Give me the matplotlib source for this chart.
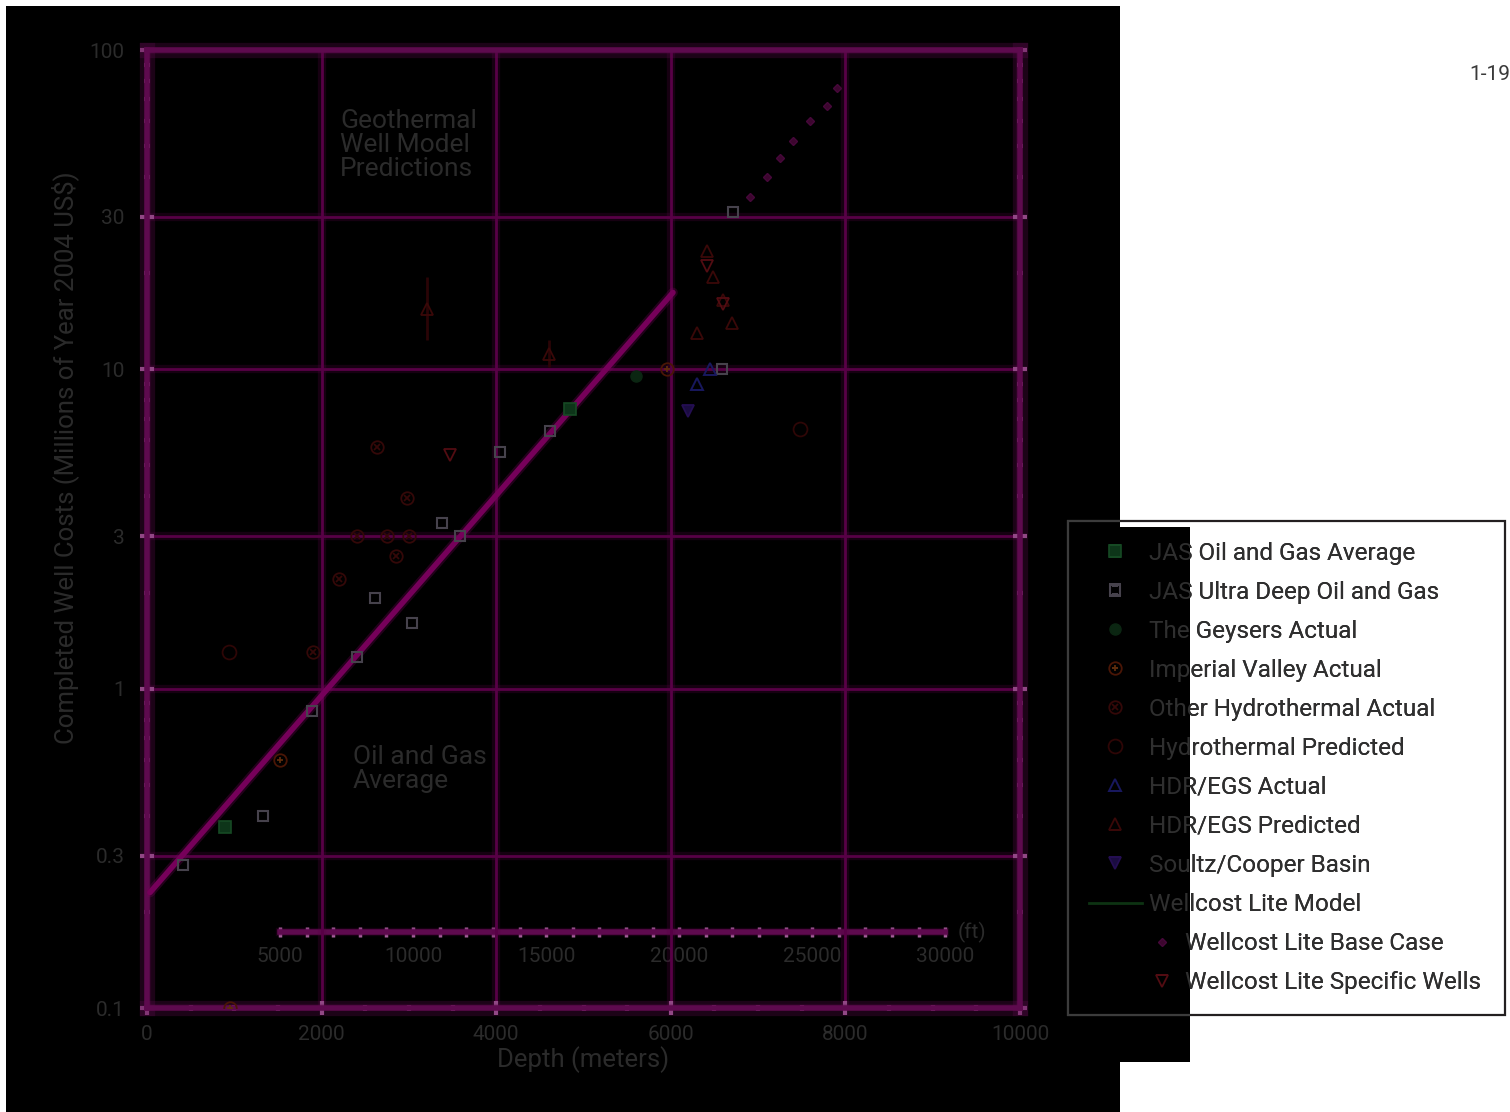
import numpy as np
import matplotlib.pyplot as plt
import matplotlib.patheffects as pe
from matplotlib.patches import Polygon
from matplotlib.ticker import FixedLocator
from matplotlib.legend_handler import HandlerLine2D

plt.rcParams['font.family'] = ['Roboto', 'DejaVu Sans']

W, H = 1510, 1112

# JAS oil and gas average fit (solid trend)
trend_depth = [34, 6025]
trend_cost = [0.23, 17.4]

# series: depth (m), completed well cost (M$ 2004)
jas_avg_depth = [893, 4845]
jas_avg_cost = [0.37, 7.5]

ultra_depth = [412, 1330, 1890, 2405, 2610, 3035, 3380, 3585, 4040, 4616, 6590, 6710]
ultra_cost = [0.28, 0.40, 0.85, 1.26, 1.92, 1.6, 3.3, 3.0, 5.5, 6.4, 10.0, 31.0]

geysers_depth = [5600]
geysers_cost = [9.5]

imperial_depth = [950, 1523, 5960]
imperial_cost = [0.1, 0.6, 10.0]

other_hydro_depth = [1900, 2200, 2400, 2630, 2750, 2850, 2980, 3000]
other_hydro_cost = [1.3, 2.2, 3.0, 5.7, 3.0, 2.6, 3.95, 3.0]

hydro_pred_depth = [940, 7480]
hydro_pred_cost = [1.3, 6.5]

hdr_act_depth = [6300, 6450]
hdr_act_cost = [9.0, 10.0]

hdr_pred_depth = [3210, 4600, 6300, 6410, 6480, 6600, 6700]
hdr_pred_cost = [15.5, 11.2, 13.0, 23.5, 19.5, 16.5, 14.0]
hdr_pred_lo = [12.4, 10.2, 13.0, 23.5, 19.5, 16.5, 14.0]
hdr_pred_hi = [19.5, 12.4, 13.0, 23.5, 19.5, 16.5, 14.0]

soultz_depth = [6200]
soultz_cost = [7.4]

base_case_depth = [6907, 7100, 7250, 7400, 7595, 7790, 7900]
base_case_cost = [34.6, 40.0, 46.0, 52.0, 60.0, 67.0, 76.0]

specific_depth = [3470, 6410, 6600]
specific_cost = [5.4, 21.0, 16.0]

x_ticks = [0, 2000, 4000, 6000, 8000, 10000]
y_ticks = [0.1, 0.3, 1, 3, 10, 30, 100]
y_tick_labels = ['0.1', '0.3', '1', '3', '10', '30', '100']
ft_ticks = [5000, 10000, 15000, 20000, 25000, 30000]

legend_labels = [
    'JAS Oil and Gas Average', 'JAS Ultra Deep Oil and Gas', 'The Geysers Actual',
    'Imperial Valley Actual', 'Other Hydrothermal Actual', 'Hydrothermal Predicted',
    'HDR/EGS Actual', 'HDR/EGS Predicted', 'Soultz/Cooper Basin', 'Wellcost Lite Model',
    '      Wellcost Lite Base Case', '      Wellcost Lite Specific Wells',
]

TXT = '#2b2b2b'
GRID = '#580046'
SPINE = '#5e0a4e'
TICK = '#a8649e'


def fpx(x, y):
    return (x / W, 1 - y / H)


fig = plt.figure(figsize=(W / 100, H / 100), dpi=100, facecolor='white')

# dark backdrop behind the plot and the left part of the legend
dark_poly = Polygon([fpx(6, 6), fpx(1120, 6), fpx(1120, 527), fpx(1190, 527),
                     fpx(1190, 1062), fpx(1120, 1062), fpx(1120, 1112), fpx(6, 1112)],
                    closed=True, transform=fig.transFigure, facecolor='black',
                    edgecolor='none', zorder=-1)
fig.patches.append(dark_poly)

ax = fig.add_axes([147 / W, 1 - 1008 / H, (1020 - 147) / W, (1008 - 50) / H])
ax.set_facecolor('none')
ax.set_yscale('log')
ax.set_xlim(0, 10000)
ax.set_ylim(0.1, 100)

glow = [pe.Stroke(linewidth=6, foreground=GRID, alpha=0.25), pe.Normal()]
glow_wide = [pe.Stroke(linewidth=11, foreground=SPINE, alpha=0.3), pe.Normal()]

ax.set_xticks(x_ticks)
ax.set_xticklabels([str(v) for v in x_ticks])
ax.set_yticks(y_ticks)
ax.set_yticklabels(y_tick_labels)
ax.xaxis.set_minor_locator(FixedLocator(np.arange(0, 10001, 500)))
minor_y = [m * 10.0 ** e for e in (-1, 0, 1) for m in (2, 4, 5, 6, 7, 8, 9)]
ax.yaxis.set_minor_locator(FixedLocator(minor_y))
ax.yaxis.set_minor_formatter(plt.NullFormatter())
ax.xaxis.set_minor_formatter(plt.NullFormatter())

ax.grid(True, which='major', color=GRID, linewidth=2, path_effects=glow)
ax.set_axisbelow(True)

for s in ax.spines.values():
    s.set_color(SPINE)
    s.set_linewidth(4)
    s.set_path_effects(glow_wide)

ax.tick_params(which='both', direction='inout', color=TICK, width=3,
               left=True, right=True, top=False, bottom=True,
               labelsize=15, labelcolor=TXT)
ax.tick_params(which='major', length=10)
ax.tick_params(which='minor', length=5)
ax.tick_params(axis='y', pad=11)
ax.tick_params(axis='x', pad=7)

# trend line
ax.plot(trend_depth, trend_cost, color='#76005a', lw=4, solid_capstyle='round',
        path_effects=[pe.Stroke(linewidth=7, foreground='#76005a', alpha=0.3), pe.Normal()],
        zorder=3)

ax.vlines(hdr_pred_depth, hdr_pred_lo, hdr_pred_hi, color='#2a0406', lw=2, zorder=2)

mk = dict(ls='none', zorder=4)
h_jas, = ax.plot(jas_avg_depth, jas_avg_cost, marker='s', ms=8, mfc='#0d3519', mec='#164a24', mew=1.2, **mk)
h_ultra, = ax.plot(ultra_depth, ultra_cost, marker='s', ms=7, mfc='none', mec='#46424c', mew=1.5, **mk)
h_geys, = ax.plot(geysers_depth, geysers_cost, marker='o', ms=8, mfc='#0b2612', mec='#0b2612', **mk)
h_imp_c, = ax.plot(imperial_depth, imperial_cost, marker='o', ms=9, mfc='none', mec='#4a1606', mew=1.3, **mk)
h_imp_p, = ax.plot(imperial_depth, imperial_cost, marker='+', ms=5, mec='#5e2c0c', mew=1.3, **mk)
h_oth_c, = ax.plot(other_hydro_depth, other_hydro_cost, marker='o', ms=9, mfc='none', mec='#340808', mew=1.3, **mk)
h_oth_x, = ax.plot(other_hydro_depth, other_hydro_cost, marker='x', ms=5, mec='#340808', mew=1.3, **mk)
h_hpred, = ax.plot(hydro_pred_depth, hydro_pred_cost, marker='o', ms=10, mfc='none', mec='#2e0606', mew=1.3, **mk)
h_hdra, = ax.plot(hdr_act_depth, hdr_act_cost, marker='^', ms=9, mfc='none', mec='#18185e', mew=1.4, **mk)
h_hdrp, = ax.plot(hdr_pred_depth, hdr_pred_cost, marker='^', ms=9, mfc='none', mec='#3a0808', mew=1.3, **mk)
h_soultz, = ax.plot(soultz_depth, soultz_cost, marker='v', ms=9, mfc='#1a0c40', mec='#240e52', mew=1.3, **mk)
h_model, = ax.plot([], [], color='#0d3312', lw=2)
h_base, = ax.plot(base_case_depth, base_case_cost, marker='D', ms=4, mfc='#3c062e', mec='#46083a', mew=1.0, **mk)
h_spec, = ax.plot(specific_depth, specific_cost, marker='v', ms=9, mfc='none', mec='#520c12', mew=1.3, **mk)

# depth in feet, drawn as an inner axis
secax = ax.secondary_xaxis(0.079, functions=(lambda m: m / 0.3048, lambda f: f * 0.3048))
secax.set_xticks(ft_ticks)
secax.set_xticklabels([str(v) for v in ft_ticks])
secax.xaxis.set_minor_locator(FixedLocator(np.arange(5000, 30001, 1000)))
secax.spines['bottom'].set_bounds(5000, 30000)
secax.spines['bottom'].set_color(SPINE)
secax.spines['bottom'].set_linewidth(4)
secax.spines['bottom'].set_path_effects(glow)
secax.tick_params(which='both', direction='inout', color=TICK, width=2.5, length=7,
                  labelsize=15, labelcolor=TXT, pad=7)
ax.text(0.928, 0.079, '(ft)', transform=ax.transAxes, ha='left', va='center',
        fontsize=15, color=TXT)

ax.text(0.221, 0.938, 'Geothermal\nWell Model\nPredictions', transform=ax.transAxes,
        ha='left', va='top', fontsize=19, color=TXT, linespacing=1.0)
ax.text(0.236, 0.275, 'Oil and Gas\nAverage', transform=ax.transAxes,
        ha='left', va='top', fontsize=19, color=TXT, linespacing=1.0)

ax.set_xlabel('Depth (meters)', fontsize=18.5, color=TXT, labelpad=2)
fig.text(65 / W, 1 - 458 / H, 'Completed Well Costs (Millions of Year 2004 US\\$)',
         rotation=90, ha='center', va='center', fontsize=18.5, color=TXT)

fig.text(1469 / W, 1 - 74 / H, '1-19', fontsize=15, color='#3a3a3a', ha='left', va='center')

handles = [h_jas, h_ultra, h_geys, (h_imp_c, h_imp_p), (h_oth_c, h_oth_x), h_hpred,
           h_hdra, h_hdrp, h_soultz, h_model, h_base, h_spec]
leg_kw = dict(loc='upper left', bbox_to_anchor=(1068 / W, 1 - 1015 / H, 437 / W, 494 / H),
              mode='expand', fontsize=17.5, labelspacing=0.66, handlelength=2.2,
              handletextpad=0.3, borderpad=0.85, borderaxespad=0, fancybox=False,
              framealpha=1, numpoints=1,
              handler_map={h_base: HandlerLine2D(xpad=3.8), h_spec: HandlerLine2D(xpad=3.8)})

leg_light = fig.legend(handles, legend_labels, facecolor='white', edgecolor='#231f20',
                       labelcolor='#231f20', **leg_kw)
leg_light.get_frame().set_linewidth(1.6)
leg_light.set_zorder(5)

leg_dark = fig.legend(handles, legend_labels, facecolor='black', edgecolor='#3c3c3c',
                      labelcolor='#2f2f2f', **leg_kw)
leg_dark.get_frame().set_linewidth(1.6)
leg_dark.set_zorder(6)
for a in leg_dark.findobj():
    a.set_clip_path(dark_poly)

fig.savefig('out.png', dpi=100, facecolor='white')
